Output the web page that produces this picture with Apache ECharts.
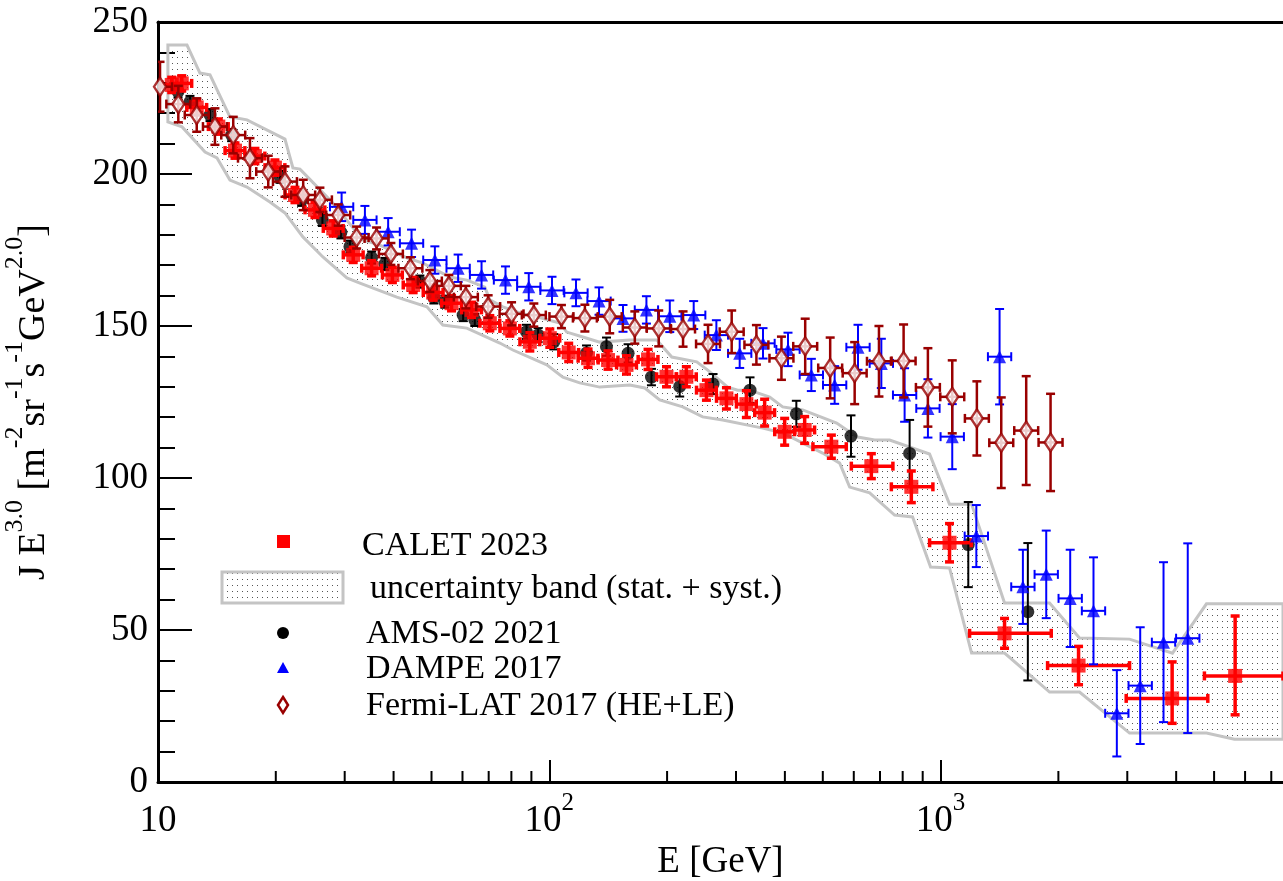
<!DOCTYPE html>
<html><head><meta charset="utf-8">
<script src="https://cdn.jsdelivr.net/npm/echarts@6/dist/echarts.min.js"></script>
<style>html,body{margin:0;padding:0;background:#fff;overflow:hidden}#c{width:1283px;height:881px}</style>
</head><body><div id="c"></div><script>
// ---------------- DATA ----------------
// [E (GeV), J E^3, errDown, errUp?, Elow?, Ehigh?]
const caletData = [[10.84,229.3,2.5],[11.50,229.8,2.5],[12.56,221.9,2.5],[14.26,215.6,2.5],[15.73,207.7,2.5],[17.69,205.9,2.5],[19.90,202.1,2.5],[22.39,193.1,2.5],[25.18,188.2,2.5],[28.04,182.1,2.5],[31.54,173.4,2.5],[35.15,169.0,2.5],[39.72,166.8,2.5],[44.88,163.5,2.5],[50.49,161.0,2.5],[56.26,157.5,2.5],[63.28,155.3,2.5],[70.47,150.9,2.5],[79.29,149.2,2.5],[89.18,144.8,3],[100.3,146.0,3],[112.1,141.3,3],[125.6,139.4,3],[141.3,138.8,3],[157.5,137.2,3],[178.8,139.0,3.3],[199.3,133.3,3.3],[224.0,133.3,3.3],[252.1,128.9,3.3],[283.6,126.2,3.5],[318.9,124.3,4.4],[355.1,121.5,4.4],[399.5,115.2,4.4],[449.4,115.8,4.4],[525.8,110.3,3.8,3.8,471.8,574.1],[665.3,103.9,4.1,4.1,591.4,755.3],[841.8,97.1,5.2,5.2,748.4,955.7],[1054,78.7,6.3,6.3,937.3,1198],[1457,48.9,4.9,4.9,1186,1918],[2252,38.3,6.3,6.3,1877,3040],[3906,27.5,8.2,12.0,2981,4818],[5659,34.9,12.8,19.7,4723,7500]];
const amsData = [[11.25,227.1,2],[12.07,223.7,2],[13.58,219.4,2],[15.43,212.8,2],[20.50,199.1,2],[23.29,191.5,2],[26.31,184.9,2],[29.34,180.8,2],[30.94,176.1,2],[35.15,172.5,2],[38.00,170.4,2],[46.70,164.6,2],[50.70,159.4,2],[54.08,158.0,2],[60.23,153.6,2],[64.51,152.0,2],[87.43,148.1,2.3],[93.63,147.0,2.3],[102.7,144.8,2.5],[124.5,141.1,2.5],[140.0,143.2,3],[159.0,141.0,3],[182.4,133.2,2.7],[215.4,130.1,3.3],[262.1,130.9,3.3],[325.8,128.9,4.2],[427.9,121.1,4.3],[590.2,113.8,6.8],[833.4,108.1,11],[1177,78.1,14],[1671,56.0,22.6]];
const dampeData = [[29.46,189.2,4.7],[33.79,184.9,4.6],[38.74,181.0,4.5],[44.46,177.2,4.5],[51.00,171.7,4.5],[58.48,169.0,4.5],[67.12,166.8,4.5],[77.28,165.1,4.5],[88.62,162.9,4.5],[101.6,161.7,4.5],[117.0,160.9,4.4],[134.0,158.2,4.5],[154.3,152.5,4.4],[177.1,155.3,4.5],[203.2,153.2,5.2],[233.9,153.6,4.6],[267.3,147.0,4.9],[306.6,141.0,4.8],[351.7,144.3,5.0],[407.4,142.3,5.5],[467.4,133.9,5.3],[536.1,130.6,6.2],[615.1,143.0,7.4],[705.6,137.7,8.1],[809.2,127.3,8.8],[928.2,122.9,9.6],[1071,113.6,10.7],[1234,80.9,10.2],[1415,139.9,15.7],[1623,64.2,12.2],[1862,68.3,14.4],[2144,60.4,16.0],[2459,56.3,17.6],[2821,22.6,14.2],[3237,31.7,19.2],[3713,46.0,26.3],[4282,47.3,31.2]];
const fermiData = [[10.12,228.7,8.2],[11.27,223.0,6],[12.56,219.4,5.5],[13.98,215.6,6],[15.57,212.8,6],[17.18,205.2,6.6],[19.13,200.8,5.2],[21.11,197.5,5],[23.50,193.1,5],[25.93,191.5,4],[28.88,186.5,3.5],[32.18,179.1,3.6],[36.19,178.8,3.6],[39.37,173.7,3.6],[44.16,169.0,3.6],[49.52,164.8,3.6],[55.37,163.2,3.6],[61.20,159.5,3.7],[69.78,156.4,3.7],[80.09,154.0,3.8],[91.30,153.6,3.8],[107.4,153.1,3.8],[123.3,152.6,4.4],[142.7,153.1,5.5],[165.4,149.5,5.3],[190.4,149.2,5.9],[219.7,149.0,5.8],[254.5,144.1,6.3],[292.5,148.1,7.0],[338.3,143.8,6.5],[392.0,139.4,7.1],[450.8,143.3,9.1],[522.2,136.2,10],[603.1,134.5,10.2],[695.8,138.4,11.6],[804.4,138.5,12],[928.0,129.8,12.9],[1071,126.7,12],[1238,119.6,12.2],[1429,111.6,14.9],[1655,115.6,17.9],[1910,111.7,16]];
// uncertainty band edges [E, value]
const bandUpper = [[10.60,242.4],[11.86,242.4],[12.80,233.2],[13.58,232.6],[15.27,218.8],[16.88,217.8],[21.11,211.5],[22.12,202.0],[23.06,201.6],[27.83,190.8],[33.40,178.3],[36.90,176.6],[43.25,172.4],[47.53,170.7],[55.70,166.1],[61.55,165.1],[68.43,162.8],[70.47,158.6],[76.09,156.3],[84.07,154.3],[92.92,153.0],[106.4,151.0],[110.8,148.0],[121.8,146.4],[134.6,144.7],[160.6,145.4],[188.2,145.4],[205.6,139.8],[238.1,138.2],[254.0,135.5],[285.7,129.9],[303.0,128.9],[325.2,128.9],[365.8,126.6],[394.9,123.4],[444.1,122.4],[542.5,118.1],[585.6,115.1],[613.8,113.5],[678.5,112.5],[741.0,112.5],[937.1,107.9],[1054,91.4],[1200,91.4],[1457,58.9],[1899,58.9],[2265,47.4],[3040,47.0],[3914,42.4],[4780,58.6],[7500,58.6]];
const bandLower = [[10.60,217.1],[11.52,215.5],[13.19,207.2],[14.15,205.3],[15.27,198.0],[16.88,195.7],[19.32,190.8],[21.11,187.2],[23.46,179.3],[26.39,172.7],[30.39,165.8],[32.81,164.1],[40.77,159.5],[48.66,156.3],[53.45,150.3],[61.55,149.3],[74.75,144.4],[80.70,142.1],[98.54,137.2],[108.3,133.2],[119.6,131.3],[134.6,129.9],[160.6,130.6],[175.4,129.6],[191.5,125.7],[219.3,123.4],[246.6,120.1],[277.4,119.1],[351.1,116.4],[394.9,114.8],[499.4,108.2],[552.2,104.9],[585.6,97.0],[658.8,95.1],[762.8,87.8],[848.1,87.2],[942.7,70.7],[1054,70.4],[1200,42.4],[1457,42.4],[1899,29.6],[2265,29.6],[3040,16.1],[4780,16.1],[5636,14.1],[7500,14.1]];
const xMinorTicks = [20,30,40,50,60,70,80,90,200,300,400,500,600,700,800,900,2000,3000,4000,5000,6000,7000];
const legendLabels = ['CALET 2023','uncertainty band (stat. + syst.)','AMS-02 2021','DAMPE 2017','Fermi-LAT 2017 (HE+LE)'];
const xTitle = 'E [GeV]';
const yTitle = '{m|J E}{s|3.0}{m| [m}{s|-2}{m|sr}{s|-1}{m|s}{s|-1}{m|GeV}{s|2.0}{m|]}';

// ---------------- STYLE ----------------
const FONT = '"Liberation Serif","Times New Roman",serif';
const C_CAL = '#ff0000', C_AMS = '#000000', C_DAM = '#0000ff', C_FER = '#990000';

function dotCanvas(){
  const c = document.createElement('canvas'); c.width = 5; c.height = 6;
  const g = c.getContext('2d'); g.fillStyle = '#555'; g.fillRect(2,3,1,1);
  return c;
}
const dots = dotCanvas();

function errSeries(arr, color, lw, cap, hasX, ratio, z){
  return {
    type:'custom', silent:true, z:z, clip:true, animation:false,
    data: arr.map(d=>[d[0], d[1]]), encode:{x:0, y:1},
    renderItem(params, api){
      const d = arr[params.dataIndex];
      const E=d[0], v=d[1], dn=d[2], up=(d[3]!==undefined?d[3]:d[2]);
      const c = api.coord([E,v]), t = api.coord([E,v+up]), b = api.coord([E,v-dn]);
      const st = {stroke:color, lineWidth:lw, fill:null};
      const ch = [
        {type:'line', shape:{x1:c[0],y1:t[1],x2:c[0],y2:b[1]}, style:st},
        {type:'line', shape:{x1:c[0]-cap,y1:t[1],x2:c[0]+cap,y2:t[1]}, style:st},
        {type:'line', shape:{x1:c[0]-cap,y1:b[1],x2:c[0]+cap,y2:b[1]}, style:st}
      ];
      if (hasX){
        const lo = d[4]!==undefined ? d[4] : E/ratio;
        const hi = d[5]!==undefined ? d[5] : E*ratio;
        const l = api.coord([lo,v]), r = api.coord([hi,v]);
        ch.push({type:'line', shape:{x1:l[0],y1:c[1],x2:r[0],y2:c[1]}, style:st});
        ch.push({type:'line', shape:{x1:l[0],y1:c[1]-cap,x2:l[0],y2:c[1]+cap}, style:st});
        ch.push({type:'line', shape:{x1:r[0],y1:c[1]-cap,x2:r[0],y2:c[1]+cap}, style:st});
      }
      return {type:'group', children:ch};
    }
  };
}
function scat(arr, symbol, size, item, z){
  return {type:'scatter', silent:true, z:z, animation:false, symbol:symbol, symbolSize:size,
    data: arr.map(d=>[d[0], d[1]]), itemStyle:item};
}

const chart = echarts.init(document.getElementById('c'), null, {renderer:'canvas'});
const legFont = '34px ' + FONT;
chart.setOption({
  animation:false,
  backgroundColor:'#fff',
  grid:{left:158, right:0, top:22, bottom:99, containLabel:false, outerBoundsMode:'none'},
  xAxis:[{
    type:'log', logBase:10, min:10, max:7500,
    axisLine:{lineStyle:{color:'#000', width:3}},
    axisTick:{inside:true, length:22, lineStyle:{color:'#000', width:2}},
    splitLine:{show:false},
    axisLabel:{showMaxLabel:false, margin:9, color:'#000',
      formatter:(v)=>{const e=Math.round(Math.log10(v)); return e===1?'{m|10}':'{m|10}{s|'+e+'}';},
      rich:{m:{fontFamily:FONT, fontSize:37, lineHeight:60, color:'#000'},
            s:{fontFamily:FONT, fontSize:25, lineHeight:25, verticalAlign:'top', padding:[0,0,35,0], color:'#000'}}},
    name:xTitle, nameLocation:'middle', nameGap:62, nameMoveOverlap:false,
    nameTextStyle:{fontFamily:FONT, fontSize:37, color:'#000', verticalAlign:'top'}
  },{
    type:'log', logBase:10, min:10, max:7500, position:'top',
    axisLine:{lineStyle:{color:'#000', width:3}}, axisTick:{show:false}, axisLabel:{show:false}, splitLine:{show:false}
  }],
  yAxis:{
    type:'value', min:0, max:250, interval:50,
    axisLine:{show:true, lineStyle:{color:'#000', width:3}},
    axisTick:{inside:true, length:34, lineStyle:{color:'#000', width:2}},
    minorTick:{show:true, splitNumber:5, length:17, lineStyle:{color:'#000', width:2}},
    splitLine:{show:false},
    axisLabel:{fontFamily:FONT, fontSize:37, color:'#000', margin:10},
    name:yTitle, nameLocation:'middle', nameGap:92, nameMoveOverlap:false,
    nameTextStyle:{color:'#000', rich:{
      m:{fontFamily:FONT, fontSize:38, lineHeight:64, color:'#000'},
      s:{fontFamily:FONT, fontSize:26, lineHeight:26, verticalAlign:'top', padding:[0,0,38,0], color:'#000'}}}
  },
  series:[
    {type:'custom', silent:true, z:1, clip:true, data:[[bandUpper[0][0], bandUpper[0][1]]], encode:{x:0,y:1},
     renderItem(params, api){
       const pts = bandUpper.map(p=>api.coord(p)).concat(bandLower.slice().reverse().map(p=>api.coord(p)));
       return {type:'polygon', shape:{points:pts}, style:{fill:{image:dots, repeat:'repeat'}, stroke:'#c4c4c4', lineWidth:3}};
     }},
    {type:'custom', silent:true, z:20, clip:false, data:xMinorTicks.map(v=>[v,0]), encode:{x:0,y:1},
     renderItem(params, api){
       const p = api.coord([api.value(0), 0]);
       return {type:'line', shape:{x1:p[0], y1:p[1], x2:p[0], y2:p[1]-11}, style:{stroke:'#000', lineWidth:2}};
     }},
    errSeries(amsData, C_AMS, 2, 4.5, false, 1, 2),
    scat(amsData, 'circle', 13, {color:C_AMS}, 3),
    errSeries(caletData, C_CAL, 3.5, 4.5, true, 1.06, 4),
    scat(caletData, 'rect', 14, {color:C_CAL}, 5),
    errSeries(dampeData, C_DAM, 2, 4.5, true, 1.071, 6),
    scat(dampeData, 'triangle', 13, {color:C_DAM}, 7),
    errSeries(fermiData, C_FER, 2.5, 4.5, true, 1.073, 8),
    scat(fermiData, 'diamond', [12,18], {color:'#fff', borderColor:C_FER, borderWidth:2.5}, 9)
  ],
  graphic:[
    {type:'rect', shape:{x:277, y:535, width:13, height:13}, style:{fill:C_CAL}},
    {type:'text', x:362, y:546, style:{text:legendLabels[0], font:legFont, fill:'#000', align:'left', verticalAlign:'middle'}},
    {type:'rect', shape:{x:222, y:572, width:121, height:31}, style:{fill:{image:dots, repeat:'repeat'}, stroke:'#c4c4c4', lineWidth:3}},
    {type:'text', x:370, y:589, style:{text:legendLabels[1], font:legFont, fill:'#000', align:'left', verticalAlign:'middle'}},
    {type:'circle', shape:{cx:283, cy:633, r:6}, style:{fill:C_AMS}},
    {type:'text', x:366, y:634, style:{text:legendLabels[2], font:legFont, fill:'#000', align:'left', verticalAlign:'middle'}},
    {type:'polygon', shape:{points:[[283,662],[277,673],[289,673]]}, style:{fill:C_DAM}},
    {type:'text', x:366, y:669, style:{text:legendLabels[3], font:legFont, fill:'#000', align:'left', verticalAlign:'middle'}},
    {type:'polygon', shape:{points:[[283,697],[288,705],[283,713],[278,705]]}, style:{fill:'#fff', stroke:C_FER, lineWidth:2.5}},
    {type:'text', x:366, y:706, style:{text:legendLabels[4], font:legFont, fill:'#000', align:'left', verticalAlign:'middle'}}
  ]
});
</script></body></html>
